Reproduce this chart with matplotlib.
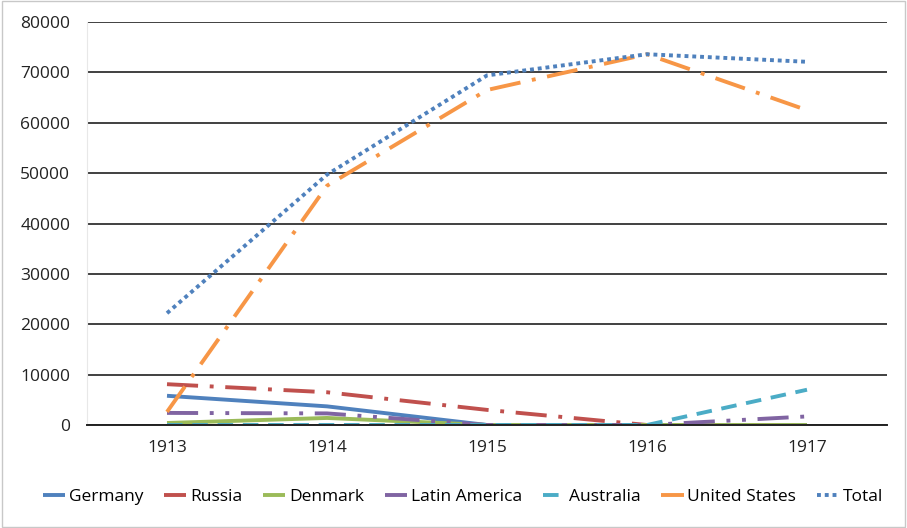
import matplotlib.pyplot as plt
from matplotlib.patches import Rectangle

years = ['1913', '1914', '1915', '1916', '1917']

germany = [5800, 3700, 0, 0, 0]
russia = [8100, 6500, 3000, 0, 0]
denmark = [400, 1400, 0, 0, 0]
latin_america = [2400, 2300, 0, 0, 1700]
australia = [0, 0, 0, 0, 7000]
united_states = [2600, 47500, 66500, 73600, 62500]
total = [22200, 49700, 69400, 73600, 72100]

series = [
    ('Germany', germany, '#4F81BD', '-'),
    ('Russia', russia, '#C0504D', (0, (8, 3, 1, 3))),
    ('Denmark', denmark, '#9BBB59', '-'),
    ('Latin America', latin_america, '#8064A2', (0, (8, 3, 1, 3, 1, 3))),
    ('Australia', australia, '#4BACC6', (0, (4, 2.5))),
    ('United States', united_states, '#F79646', (0, (8, 3, 1, 3))),
    ('Total', total, '#4F81BD', (0, (1, 1))),
]

plt.rcParams['font.family'] = ['Open Sans', 'DejaVu Sans']

fig = plt.figure(figsize=(9.07, 5.28), dpi=100)
ax = fig.add_axes([87 / 907, 1 - 425 / 528, 800 / 907, 403 / 528])

x = list(range(len(years)))
for name, vals, color, ls in series:
    ax.plot(x, vals, color=color, linestyle=ls, linewidth=2.8, label=name,
            solid_capstyle='butt', dash_capstyle='butt')

ax.set_xlim(-0.5, 4.5)
ax.set_ylim(0, 80000)
ax.set_yticks(range(0, 80001, 10000))
ax.set_xticks(x)
ax.set_xticklabels(years)
ax.yaxis.grid(True, color='#404040', linewidth=1.4)
ax.set_axisbelow(True)
for s in ['top', 'right']:
    ax.spines[s].set_visible(False)
ax.spines['left'].set_color('#e8e8e8')
ax.spines['bottom'].set_color('#222222')
ax.spines['bottom'].set_linewidth(1.4)
ax.tick_params(length=0, labelsize=12.5, colors='#222222')
ax.tick_params(axis='x', pad=11)
ax.tick_params(axis='y', pad=12)

# legend below the plot, one row
leg = ax.legend(loc='center', bbox_to_anchor=(0.47, (425 - 497) / 403), ncol=7,
                frameon=False, fontsize=12.5, handlelength=1.3, handletextpad=0.2,
                columnspacing=1.2)

fig.patches.append(Rectangle((0.002, 0.002), 0.996, 0.996, transform=fig.transFigure,
                             fill=False, edgecolor='#c8c8c8', linewidth=1))

fig.savefig('out.png', dpi=100)
